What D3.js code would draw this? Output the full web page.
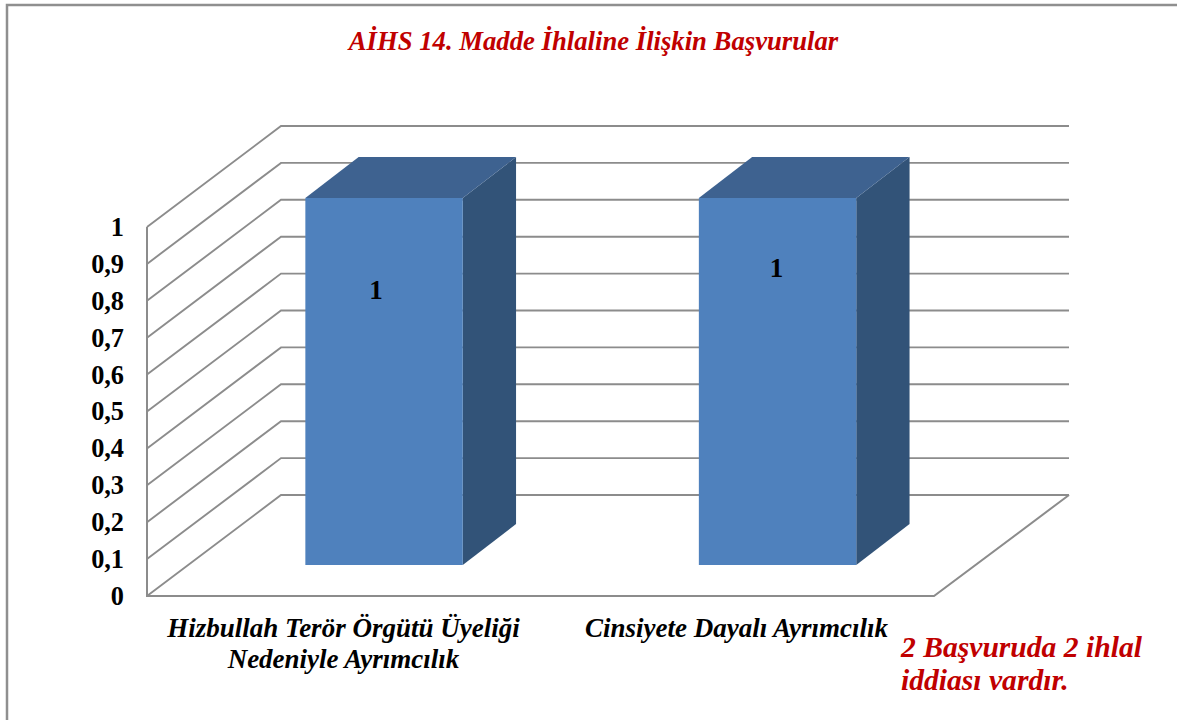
<!DOCTYPE html>
<html>
<head>
<meta charset="utf-8">
<script src="https://cdn.jsdelivr.net/npm/d3@7"></script>
<style>
    html, body { margin: 0; padding: 0; background: #fff; overflow: hidden; }
    text { font-family: "Liberation Serif", serif; font-weight: bold; }
</style>
</head>
<body>
<script>
const titleText = 'AİHS 14. Madde İhlaline İlişkin Başvurular';
const noteLines = ['2 Başvuruda 2 ihlal', 'iddiası vardır.'];
const categories = ['Hizbullah Terör Örgütü Üyeliği|Nedeniyle Ayrımcılık', 'Cinsiyete Dayalı Ayrımcılık'];
const values = [1, 1];
const tickValues = [0, 0.1, 0.2, 0.3, 0.4, 0.5, 0.6, 0.7, 0.8, 0.9, 1];
const tickLabels = ['0', '0,1', '0,2', '0,3', '0,4', '0,5', '0,6', '0,7', '0,8', '0,9', '1'];

const width = 1177, height = 720;
const gridColor = '#8c8c8c';
const red = '#c00000';

// 3d kutu: on duvar -> arka duvar kaymasi
const depthY = -101;
const barDepth = { x: 40.3, y: -31, dx: 53.3, dy: -41, topInset: 2 };

const svg = d3.select('body').append('svg')
    .attr('width', width)
    .attr('height', height)
    .style('display', 'block');

// dis cerceve
svg.append('rect')
    .attr('x', 7).attr('y', 5)
    .attr('width', width + 20).attr('height', height + 20)
    .attr('fill', '#fff')
    .attr('stroke', '#8f8f8f')
    .attr('stroke-width', 2.5);

const yScale = d3.scaleLinear().domain([0, 1]).range([596, 227]);
const xFront = d3.scaleLinear().domain([0, 1]).range([147, 934]);
const xBack = d3.scaleLinear().domain([0, 1]).range([281, 1069]);
const xBand = d3.scaleBand()
    .domain(categories)
    .range([xFront(0) + barDepth.x, xFront(1) + barDepth.x])
    .paddingInner(0.6)
    .paddingOuter(0.3);

// yan duvar + arka duvar cizgileri
svg.append('g').selectAll('path')
    .data(tickValues)
    .join('path')
    .attr('d', d => d3.line()([
        [xFront(0), yScale(d)],
        [xBack(0), yScale(d) + depthY],
        [xBack(1), yScale(d) + depthY]
    ]))
    .attr('fill', 'none')
    .attr('stroke', gridColor)
    .attr('stroke-width', 1.9);

// taban
svg.append('path')
    .attr('d', d3.line()([
        [xFront(0), yScale(1)],
        [xFront(0), yScale(0)],
        [xFront(1), yScale(0)],
        [xBack(1), yScale(0) + depthY]
    ]))
    .attr('fill', 'none')
    .attr('stroke', gridColor)
    .attr('stroke-width', 2);

// barlar
const bars = svg.append('g').selectAll('g')
    .data(categories.map((c, i) => ({ c, v: values[i] })))
    .join('g');

const barX = d => xBand(d.c);
const barR = d => xBand(d.c) + xBand.bandwidth();
const barTop = d => yScale(d.v) + barDepth.y + barDepth.topInset;
const barBase = () => yScale(0) + barDepth.y;

bars.append('polygon') // yan yuz
    .attr('points', d => [
        [barR(d), barTop(d)],
        [barR(d) + barDepth.dx, barTop(d) + barDepth.dy],
        [barR(d) + barDepth.dx, barBase() + barDepth.dy],
        [barR(d), barBase()]
    ].join(' '))
    .attr('fill', '#325378');

bars.append('polygon') // ust yuz
    .attr('points', d => [
        [barX(d), barTop(d)],
        [barX(d) + barDepth.dx, barTop(d) + barDepth.dy],
        [barR(d) + barDepth.dx, barTop(d) + barDepth.dy],
        [barR(d), barTop(d)]
    ].join(' '))
    .attr('fill', '#3e6290');

bars.append('rect') // on yuz
    .attr('x', barX)
    .attr('y', barTop)
    .attr('width', xBand.bandwidth())
    .attr('height', d => barBase() - barTop(d))
    .attr('fill', '#4f81bd');

// deger etiketleri, orijinalde elle kaydirilmis
const labelShift = [[-8, 101], [-1, 79]];
bars.append('text')
    .attr('x', (d, i) => barX(d) + xBand.bandwidth() / 2 + labelShift[i][0])
    .attr('y', (d, i) => barTop(d) + labelShift[i][1])
    .attr('text-anchor', 'middle')
    .attr('font-size', 27)
    .attr('fill', '#000')
    .text(d => d3.format('d')(d.v));

// y ekseni
const yAxis = d3.axisLeft(yScale)
    .tickValues(tickValues)
    .tickSize(0)
    .tickPadding(23)
    .tickFormat((d, i) => tickLabels[i]);

svg.append('g')
    .attr('transform', `translate(${xFront(0)}, 0)`)
    .call(yAxis)
    .call(g => g.select('.domain').remove())
    .call(g => g.selectAll('text')
        .style('font-family', '"Liberation Serif", serif')
        .style('font-weight', 'bold')
        .style('font-size', '26.3px')
        .attr('fill', '#000'));

// kategori etiketleri
const catCenters = [343.5, 736.5];
svg.append('g').selectAll('text')
    .data(categories)
    .join('text')
    .attr('text-anchor', 'middle')
    .attr('font-size', 27)
    .attr('font-style', 'italic')
    .attr('fill', '#000')
    .each(function (d, i) {
        d3.select(this).selectAll('tspan')
            .data(d.split('|'))
            .join('tspan')
            .attr('x', catCenters[i])
            .attr('y', (s, j) => 637 + j * 31)
            .text(s => s);
    });

// baslik
svg.append('text')
    .attr('x', 593.5)
    .attr('y', 50)
    .attr('text-anchor', 'middle')
    .attr('font-size', 26.7)
    .attr('font-style', 'italic')
    .attr('fill', red)
    .text(titleText);

// not
svg.append('g').selectAll('text')
    .data(noteLines)
    .join('text')
    .attr('x', 901)
    .attr('y', (d, i) => 657 + i * 33)
    .attr('font-size', 29.6)
    .attr('font-style', 'italic')
    .attr('fill', red)
    .text(d => d);
</script>
</body>
</html>
